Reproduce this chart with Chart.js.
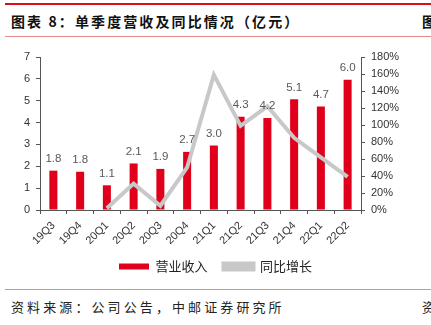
<!DOCTYPE html>
<html>
<head>
<meta charset="utf-8">
<script src="https://cdn.jsdelivr.net/npm/chart.js@4/dist/chart.umd.min.js"></script>
<style>
  body { margin: 0; width: 431px; height: 325px; background: #fff; position: relative; overflow: hidden;
         font-family: "Noto Sans CJK SC", sans-serif; }
  .rule { position: absolute; left: 5px; right: 0; }
  #top-rule { top: 3px; height: 2px; background: #d7111b; }
  #title-rule { top: 36px; height: 1px; background: #e58a8a; }
  #foot-rule { top: 289px; height: 1px; background: #e58a8a; }
  #title { position: absolute; left: 11px; top: 11px; font-size: 14px; font-weight: bold; color: #111;
           white-space: nowrap; letter-spacing: 2.1px; }
  #title2 { position: absolute; left: 422px; top: 11px; font-size: 14px; font-weight: bold; color: #111; }
  #source { position: absolute; left: 11px; top: 297px; font-size: 13px; color: #222;
            white-space: nowrap; letter-spacing: 3.1px; }
  #source2 { position: absolute; left: 422px; top: 297px; font-size: 13px; color: #222; }
  #wrap { position: absolute; left: 0; top: 40px; width: 431px; height: 243px; }
</style>
</head>
<body>
<div class="rule" id="top-rule"></div>
<div id="title">图表 8：单季度营收及同比情况（亿元）</div>
<div id="title2">图</div>
<div class="rule" id="title-rule"></div>
<div id="wrap"><canvas id="chart"></canvas></div>
<div class="rule" id="foot-rule"></div>
<div id="source">资料来源：公司公告，中邮证券研究所</div>
<div id="source2">资</div>
<script>
// 数据
const quarters = ['19Q3', '19Q4', '20Q1', '20Q2', '20Q3', '20Q4', '21Q1', '21Q2', '21Q3', '21Q4', '22Q1', '22Q2'];
const revenue = [1.8, 1.75, 1.13, 2.13, 1.88, 2.66, 2.95, 4.27, 4.21, 5.07, 4.73, 5.96];
const yoyGrowth = [null, null, 2, 31, 5, 50, 159, 99, 122, 85, 62, 39];
const leftTicks = [0, 1, 2, 3, 4, 5, 6, 7];
const rightTicks = [0, 20, 40, 60, 80, 100, 120, 140, 160, 180];

// 柱子上方的数值标签
const barLabels = {
    id: 'barLabels',
    afterDatasetsDraw(chart) {
        const ctx = chart.ctx;
        const meta = chart.getDatasetMeta(0);
        ctx.save();
        ctx.font = '11.5px "Liberation Sans", Arial, sans-serif';
        ctx.fillStyle = '#595959';
        ctx.textAlign = 'center';
        ctx.textBaseline = 'bottom';
        meta.data.forEach((bar, i) => {
            ctx.fillText(revenue[i].toFixed(1), bar.x, bar.y - 6);
        });
        ctx.restore();
    }
};

const tickFont = { family: '"Liberation Sans", Arial, sans-serif', size: 11 };

new Chart(document.getElementById('chart'), {
    data: {
        labels: quarters,
        datasets: [{
            type: 'bar',
            label: '营业收入',
            data: revenue,
            backgroundColor: '#e0001b',
            barPercentage: 0.3,
            categoryPercentage: 1,
            yAxisID: 'y',
            order: 2
        }, {
            type: 'line',
            label: '同比增长',
            data: yoyGrowth,
            borderColor: '#c8c8c8',
            backgroundColor: '#c8c8c8',
            borderWidth: 4,
            pointRadius: 0,
            tension: 0,
            yAxisID: 'y1',
            order: 1
        }]
    },
    options: {
        responsive: true,
        maintainAspectRatio: false,
        animation: false,
        layout: { padding: { top: 17, left: 0, right: 0, bottom: 0 } },
        plugins: {
            legend: {
                position: 'bottom',
                labels: {
                    boxWidth: 30,
                    boxHeight: 6,
                    padding: 16,
                    color: '#222',
                    font: { family: '"Noto Sans CJK SC", sans-serif', size: 13 },
                    sort: (a, b) => a.datasetIndex - b.datasetIndex
                }
            },
            tooltip: { enabled: false }
        },
        scales: {
            x: {
                offset: true,
                grid: { display: true, drawOnChartArea: false, offset: true, tickLength: 4, color: '#555' },
                border: { color: '#555', width: 1 },
                ticks: { minRotation: 45, maxRotation: 45, color: '#333', font: tickFont, padding: 5 },
                afterFit(axis) { axis.height = 34; }
            },
            y: {
                position: 'left',
                min: 0, max: 7,
                afterBuildTicks(axis) { axis.ticks = leftTicks.map(v => ({ value: v })); },
                grid: { drawOnChartArea: false, tickLength: 4, color: '#555' },
                border: { color: '#555', width: 1 },
                ticks: { color: '#333', font: tickFont, padding: 6 },
                afterFit(axis) { axis.width = 40; }
            },
            y1: {
                position: 'right',
                min: 0, max: 180,
                afterBuildTicks(axis) { axis.ticks = rightTicks.map(v => ({ value: v })); },
                grid: { drawOnChartArea: false, tickLength: 4, color: '#555' },
                border: { color: '#555', width: 1 },
                ticks: { color: '#333', font: tickFont, padding: 6, callback: v => v + '%' },
                afterFit(axis) { axis.width = 70; }
            }
        }
    },
    plugins: [barLabels]
});
</script>
</body>
</html>
